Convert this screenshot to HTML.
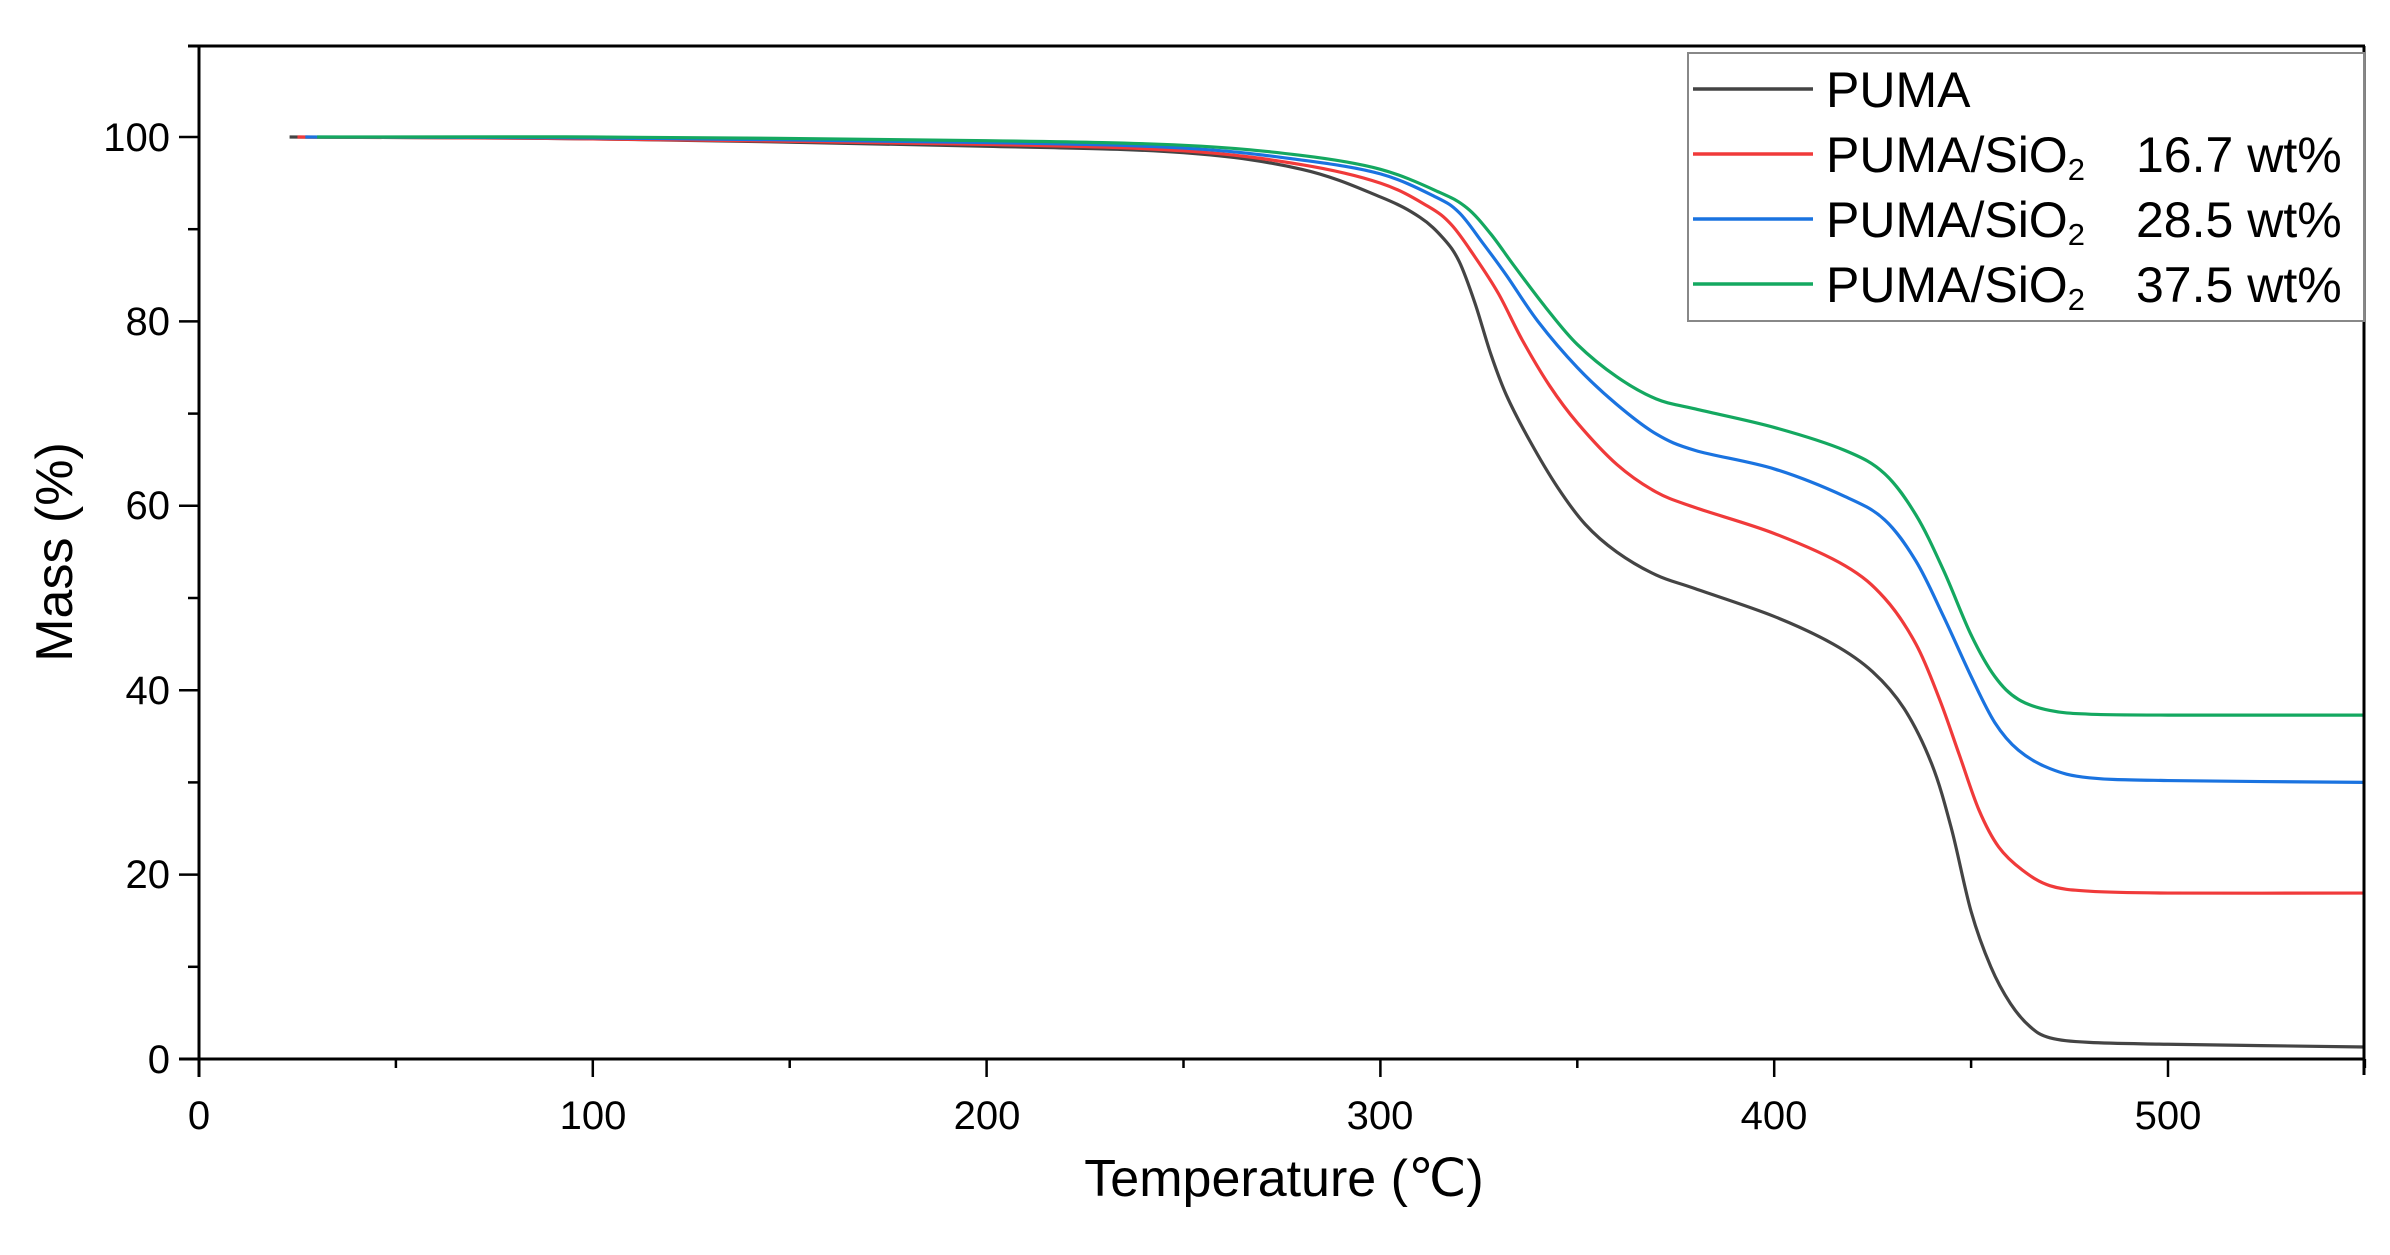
<!DOCTYPE html>
<html><head><meta charset="utf-8"><style>
html,body{margin:0;padding:0;background:#fff;}
svg{display:block;font-family:"Liberation Sans",Arial,sans-serif;}
</style></head><body>
<svg id="s" width="2390" height="1255" viewBox="0 0 2390 1255" xmlns="http://www.w3.org/2000/svg">
<rect width="2390" height="1255" fill="#fff"/>
<g id="curves" fill="none" stroke-width="3.2"></g>
<g stroke="#000" stroke-width="3" fill="none">
<line x1="188" y1="46" x2="2365" y2="46"/>
<line x1="2364" y1="46" x2="2364" y2="1075"/>
<line x1="199" y1="46" x2="199" y2="1077"/>
<line x1="179" y1="1059" x2="2365" y2="1059"/>
</g>
<g id="ticks" stroke="#000" stroke-width="2.5"></g>
<g font-size="40" fill="#000" text-anchor="end">
<text x="170" y="1073">0</text>
<text x="170" y="888">20</text>
<text x="170" y="704">40</text>
<text x="170" y="519">60</text>
<text x="170" y="335">80</text>
<text x="170" y="151">100</text>
</g>
<g font-size="40" fill="#000" text-anchor="middle">
<text x="199" y="1129">0</text>
<text x="593" y="1129">100</text>
<text x="987" y="1129">200</text>
<text x="1380" y="1129">300</text>
<text x="1774" y="1129">400</text>
<text x="2168" y="1129">500</text>
</g>
<text x="1284" y="1196" font-size="52" text-anchor="middle">Temperature (℃)</text>
<text transform="translate(72,552) rotate(-90)" font-size="52" text-anchor="middle">Mass (%)</text>
<rect x="1688" y="53" width="676" height="268" fill="#fff" stroke="#888" stroke-width="2"/>
<g stroke-width="3.5">
<line x1="1693" y1="89" x2="1813" y2="89" stroke="#444"/>
<line x1="1693" y1="154" x2="1813" y2="154" stroke="#f03a3a"/>
<line x1="1693" y1="219" x2="1813" y2="219" stroke="#1a73e0"/>
<line x1="1693" y1="284" x2="1813" y2="284" stroke="#14a860"/>
</g>
<g font-size="50" fill="#000">
<text x="1826" y="107">PUMA</text>
<text x="1826" y="172">PUMA/SiO<tspan font-size="31" dy="8">2</tspan><tspan dy="-8" x="2136">16.7 wt%</tspan></text>
<text x="1826" y="237">PUMA/SiO<tspan font-size="31" dy="8">2</tspan><tspan dy="-8" x="2136">28.5 wt%</tspan></text>
<text x="1826" y="302">PUMA/SiO<tspan font-size="31" dy="8">2</tspan><tspan dy="-8" x="2136">37.5 wt%</tspan></text>
</g>
</svg>
<script>
var NS="http://www.w3.org/2000/svg";
function X(t){return 199+t*3.938;}
function Y(m){return 1059-m*9.22;}
var tk=document.getElementById("ticks");
function ln(x1,y1,x2,y2){var l=document.createElementNS(NS,"line");l.setAttribute("x1",x1);l.setAttribute("y1",y1);l.setAttribute("x2",x2);l.setAttribute("y2",y2);tk.appendChild(l);}
for(var m=0;m<=100;m+=10){ln(m%20==0?179:188,Y(m),199,Y(m));}
for(var t=0;t<=550;t+=50){ln(X(t),1059,X(t),t%100==0?1077:1068);}
var series=[
["#444",[[23,100],[100,99.8],[200,99],[250,98.3],[280,96.5],[300,93.5],[310,91.3],[316,89],[320,86.5],[324,82],[328,76.5],[332,72],[338,67],[345,62],[352,58],[360,55],[370,52.5],[380,51],[400,48],[415,45],[425,42],[433,38],[440,32],[445,25],[450,16],[455,10],[460,6],[465,3.5],[470,2.3],[480,1.8],[500,1.6],[550,1.3]]],
["#f03a3a",[[25,100],[100,99.8],[200,99.2],[250,98.5],[280,97],[300,95],[312,92.5],[318,90.5],[324,87],[330,83],[336,78],[343,73],[350,69],[360,64.5],[370,61.5],[380,59.8],[400,57],[418,53.5],[428,50],[436,45],[442,39],[447,33],[452,27],[457,23],[463,20.5],[470,18.8],[480,18.2],[500,18],[550,18]]],
["#1a73e0",[[27,100],[100,99.9],[200,99.4],[250,98.8],[280,97.5],[300,96],[314,93.5],[320,91.8],[326,88.5],[332,85],[340,80],[350,75],[360,71],[370,67.8],[380,66],[400,64],[418,61],[428,58.5],[436,54],[443,48],[450,41.5],[456,36.5],[462,33.5],[470,31.5],[480,30.5],[500,30.2],[550,30]]],
["#14a860",[[30,100],[100,100],[200,99.6],[250,99.1],[280,98],[300,96.5],[315,94],[322,92.3],[328,89.5],[334,86],[342,81.5],[350,77.5],[360,74],[370,71.6],[380,70.5],[400,68.5],[418,66],[428,63.5],[436,59],[443,53],[450,46],[456,41.5],[462,39],[470,37.8],[480,37.4],[500,37.3],[550,37.3]]]
];
var g=document.getElementById("curves");
series.forEach(function(s){
 var p=s[1].map(function(a){return [X(a[0]),Y(a[1])];});
 var d="M"+p[0][0]+","+p[0][1];
 for(var i=0;i<p.length-1;i++){
  var p0=p[Math.max(i-1,0)],p1=p[i],p2=p[i+1],p3=p[Math.min(i+2,p.length-1)];
  var c1=[p1[0]+(p2[0]-p0[0])/6,p1[1]+(p2[1]-p0[1])/6];
  var c2=[p2[0]-(p3[0]-p1[0])/6,p2[1]-(p3[1]-p1[1])/6];
  d+=" C"+c1+" "+c2+" "+p2;
 }
 var e=document.createElementNS(NS,"path");e.setAttribute("d",d);e.setAttribute("stroke",s[0]);g.appendChild(e);
});
</script>
</body></html>
